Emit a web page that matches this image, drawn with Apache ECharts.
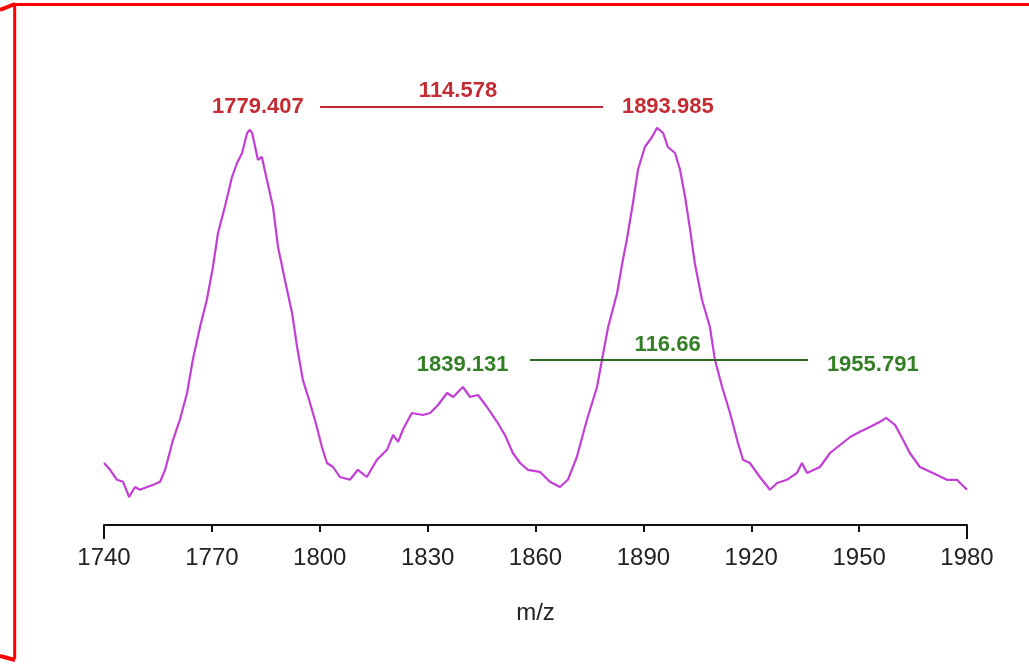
<!DOCTYPE html>
<html>
<head>
<meta charset="utf-8">
<style>
  html, body { margin: 0; padding: 0; background: #fff; }
  #chart { width: 1029px; height: 664px; }
</style>
<script src="https://cdn.jsdelivr.net/npm/echarts@6/dist/echarts.min.js"></script>
</head>
<body>
<div id="chart"></div>
<script>
// Spectrum trace: m/z and relative intensity
const mzValues = [
  1740.0, 1741.7, 1743.6, 1745.3, 1747.0, 1748.6, 1750.0, 1752.0, 1753.6, 1755.6,
  1757.0, 1759.2, 1761.1, 1763.1, 1764.7, 1766.7, 1768.6, 1770.3, 1771.7, 1773.6,
  1775.6, 1777.0, 1778.4, 1779.8, 1780.6, 1781.2, 1782.8, 1783.9, 1785.3, 1787.0,
  1788.4, 1790.3, 1792.3, 1793.7, 1795.3, 1797.3, 1799.2, 1800.6, 1802.0, 1803.7,
  1805.6, 1808.4, 1810.6, 1813.1, 1815.9, 1818.7, 1820.4, 1821.8, 1823.1, 1825.6,
  1828.7, 1830.7, 1832.9, 1835.4, 1837.1, 1839.8, 1841.8, 1844.0, 1846.5, 1849.3,
  1851.5, 1853.7, 1855.7, 1857.9, 1861.2, 1864.0, 1866.8, 1869.0, 1871.5, 1874.3,
  1877.1, 1878.5, 1880.2, 1882.7, 1884.3, 1885.4, 1887.1, 1888.5, 1890.4, 1892.4,
  1893.8, 1895.5, 1896.8, 1898.8, 1900.2, 1901.6, 1903.0, 1904.3, 1906.3, 1908.5,
  1909.9, 1911.9, 1914.1, 1916.3, 1917.7, 1919.6, 1922.4, 1925.2, 1927.2, 1929.9,
  1932.7, 1934.1, 1935.5, 1939.1, 1941.9, 1944.7, 1947.5, 1950.2, 1953.0, 1955.8,
  1957.5, 1960.0, 1962.2, 1964.1, 1966.9, 1970.5, 1974.4, 1977.2, 1980.0
];
const intensityValues = [
  15.5, 13.8, 11.3, 10.8, 7.0, 9.5, 8.8, 9.5, 10.0, 10.8,
  13.8, 21.3, 26.3, 33.0, 41.3, 49.5, 56.3, 64.5, 73.0, 79.5,
  87.0, 90.5, 93.0, 98.0, 98.8, 98.0, 91.3, 92.0, 86.3, 79.5,
  69.5, 61.3, 53.0, 44.5, 36.3, 30.5, 24.5, 19.5, 15.5, 14.5,
  12.0, 11.3, 13.8, 12.0, 16.3, 18.8, 22.5, 20.8, 23.8, 28.0,
  27.5, 28.0, 30.0, 33.0, 32.0, 34.5, 32.0, 32.5, 29.5, 25.8,
  22.5, 18.0, 15.5, 13.8, 13.3, 10.8, 9.5, 11.3, 17.0, 26.3,
  34.5, 41.3, 49.5, 58.0, 66.3, 71.3, 80.5, 88.8, 94.5, 97.0,
  99.3, 98.0, 94.5, 93.0, 88.8, 82.0, 73.8, 65.5, 56.3, 49.5,
  41.3, 34.5, 28.0, 20.5, 16.3, 15.5, 12.0, 8.8, 10.5, 11.3,
  13.0, 15.5, 13.0, 14.5, 18.0, 20.0, 22.0, 23.3, 24.5, 25.8,
  26.8, 25.0, 21.3, 18.0, 14.5, 13.0, 11.3, 11.3, 8.8
];

// Axis ticks
const xTickValues = [1740, 1770, 1800, 1830, 1860, 1890, 1920, 1950, 1980];

// Annotated peak pairs and their spacing
const redPeaks = [1779.407, 1893.985];
const greenPeaks = [1839.131, 1955.791];
const spacingLabels = ['114.578', '116.66'];

const RED = '#c42c34';
const RED_LINE = '#c0282f';
const GREEN = '#347f26';
const GREEN_LINE = '#2c6a20';
const FONT = 'Liberation Sans, Arial, sans-serif';

const xMin = xTickValues[0];
const xMax = xTickValues[xTickValues.length - 1];
const xStep = xTickValues[1] - xTickValues[0];

const trace = mzValues.map((m, i) => [m, intensityValues[i]]);

// Bracket geometry for each pair (in axis units)
const redBar = { y: 104.5, from: 1800.1, to: 1878.8 };
const greenBar = { y: 41.25, from: 1858.5, to: 1935.8 };

function textSeries(points, color, size) {
  return {
    type: 'scatter',
    symbolSize: 0,
    silent: true,
    z: 5,
    itemStyle: { opacity: 1 },
    data: points.map(p => ({ value: [p.x, p.y], text: p.text })),
    label: {
      show: true,
      position: 'inside',
      align: 'center',
      verticalAlign: 'middle',
      formatter: (d) => d.data.text,
      color: color,
      fontFamily: FONT,
      fontWeight: 'bold',
      fontSize: size
    }
  };
}

function barSeries(bar, color) {
  return {
    type: 'line',
    symbol: 'none',
    silent: true,
    z: 4,
    data: [[bar.from, bar.y], [bar.to, bar.y]],
    lineStyle: { color: color, width: 2 }
  };
}

const chart = echarts.init(document.getElementById('chart'));
chart.setOption({
  animation: false,
  backgroundColor: '#ffffff',
  grid: { left: 104, right: 62, top: 5, bottom: 139 },
  xAxis: [
    {
      type: 'value',
      position: 'bottom',
      min: xMin,
      max: xMax,
      interval: xStep,
      name: 'm/z',
      nameLocation: 'middle',
      nameGap: 76,
      nameTextStyle: { fontFamily: FONT, fontSize: 24, color: '#222' },
      axisLine: { lineStyle: { color: '#111', width: 2 } },
      axisTick: { length: 7, lineStyle: { color: '#111', width: 2 } },
      axisLabel: {
        fontFamily: FONT, fontSize: 24, color: '#222', margin: 21,
        formatter: (v) => String(v)
      },
      splitLine: { show: false }
    },
    {
      // longer end ticks at the range limits
      type: 'value',
      position: 'bottom',
      offset: 0,
      min: xMin,
      max: xMax,
      interval: xMax - xMin,
      axisLine: { show: false },
      axisTick: { length: 14, lineStyle: { color: '#111', width: 2 } },
      axisLabel: { show: false },
      splitLine: { show: false }
    }
  ],
  yAxis: {
    type: 'value',
    min: 0,
    max: 130,
    show: false
  },
  series: [
    {
      type: 'line',
      data: trace,
      symbol: 'none',
      silent: true,
      z: 3,
      lineStyle: { color: '#c23ed4', width: 2.2 }
    },
    barSeries(redBar, RED_LINE),
    barSeries(greenBar, GREEN_LINE),
    textSeries([
      { x: redPeaks[0] + 3.4, y: redBar.y, text: redPeaks[0].toFixed(3) },
      { x: redPeaks[1] + 2.8, y: redBar.y, text: redPeaks[1].toFixed(3) },
      { x: (redBar.from + redBar.to) / 2 - 1, y: 108.5, text: spacingLabels[0] }
    ], RED, 22),
    textSeries([
      { x: greenPeaks[0] + 0.6, y: 40, text: greenPeaks[0].toFixed(3) },
      { x: greenPeaks[1] - 2, y: 40, text: greenPeaks[1].toFixed(3) },
      { x: (greenBar.from + greenBar.to) / 2 - 0.4, y: 45, text: spacingLabels[1] }
    ], GREEN, 22)
  ],
  graphic: [
    {
      type: 'polyline',
      silent: true,
      shape: { points: [[1040, 4.5], [14.7, 4.5], [14.7, 659]] },
      style: { stroke: '#ff0000', lineWidth: 3, fill: null }
    },
    {
      type: 'line',
      silent: true,
      shape: { x1: 0, y1: 10, x2: 15, y2: 4 },
      style: { stroke: '#ff0000', lineWidth: 4 }
    },
    {
      type: 'line',
      silent: true,
      shape: { x1: 0, y1: 656, x2: 15, y2: 660 },
      style: { stroke: '#ff0000', lineWidth: 4 }
    }
  ]
});
</script>
</body>
</html>
